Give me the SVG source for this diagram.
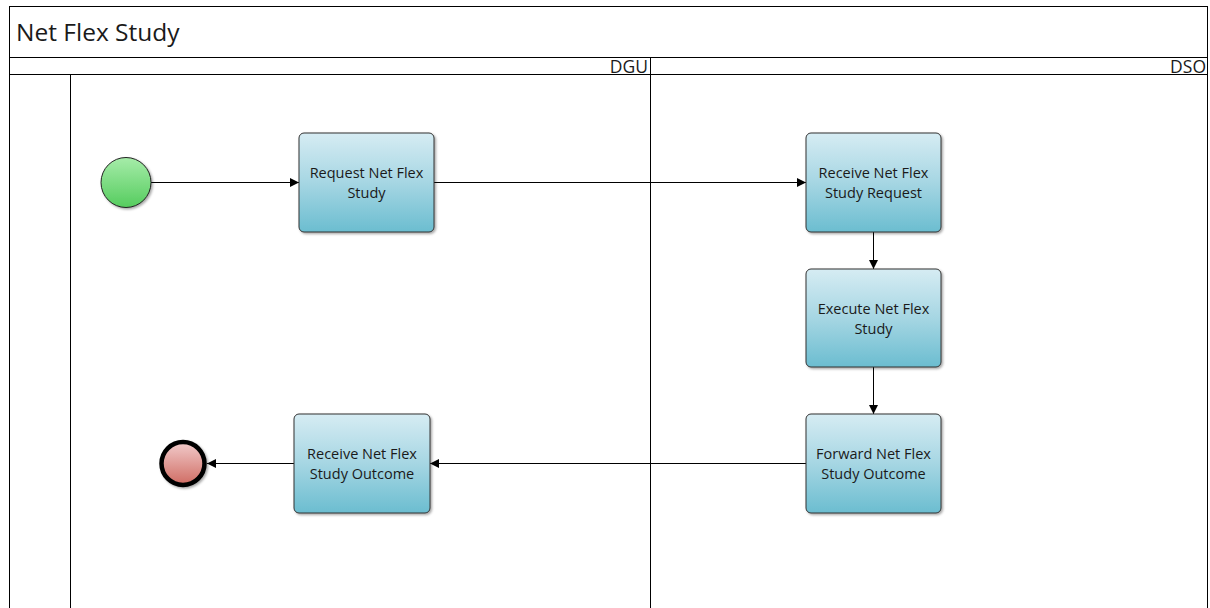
<svg xmlns="http://www.w3.org/2000/svg" width="1210" height="608" viewBox="0 0 1210 608">
<defs>
<linearGradient id="task" x1="0" y1="0" x2="0" y2="1"><stop offset="0" stop-color="#d6ecf3"/><stop offset="0.5" stop-color="#a6d6e3"/><stop offset="1" stop-color="#6bbdd0"/></linearGradient>
<linearGradient id="start" x1="0" y1="0" x2="0" y2="1"><stop offset="0" stop-color="#a6eca9"/><stop offset="1" stop-color="#55cc5e"/></linearGradient>
<linearGradient id="end" x1="0" y1="0" x2="0" y2="1"><stop offset="0" stop-color="#f2cccc"/><stop offset="1" stop-color="#cf6b62"/></linearGradient>
<marker id="arr" viewBox="0 0 10 10" refX="10" refY="5" markerWidth="9" markerHeight="9" markerUnits="userSpaceOnUse" orient="auto"><path d="M0,0 L10,5 L0,10 z" fill="#000"/></marker>
<filter id="sh" x="-10%" y="-10%" width="130%" height="130%"><feDropShadow dx="1.5" dy="1.5" stdDeviation="1" flood-color="#000" flood-opacity="0.35"/></filter>
</defs>
<style>
.frame{fill:none;stroke:#000;stroke-width:1}
.lbl{font-family:"Open Sans","Noto Sans","Liberation Sans",sans-serif;fill:#1a1a1a}
.task rect{fill:url(#task);stroke:#333;stroke-width:1;filter:url(#sh)}
.task text{font-family:"Open Sans","Noto Sans","Liberation Sans",sans-serif;font-size:14.5px;fill:#1a1a1a;text-anchor:middle}
.conn{fill:none;stroke:#000;stroke-width:1;marker-end:url(#arr)}
</style>
<rect width="1210" height="608" fill="#fff"/>
<g id="pool">
<rect class="frame" x="9.5" y="6.5" width="1198" height="610"/>
<line class="frame" x1="9.5" y1="57.5" x2="1207.5" y2="57.5"/>
<line class="frame" x1="9.5" y1="74.5" x2="1207.5" y2="74.5"/>
<line class="frame" x1="70.5" y1="74.5" x2="70.5" y2="608"/>
<line class="frame" x1="650.5" y1="57.5" x2="650.5" y2="608"/>
<text class="lbl" x="16" y="41" font-size="24.5">Net Flex Study</text>
<text class="lbl" x="648" y="72.5" font-size="17.5" text-anchor="end">DGU</text>
<text class="lbl" x="1206" y="72.5" font-size="17.5" text-anchor="end">DSO</text>
</g>
<g id="connectors">
<line class="conn" x1="151" y1="182.5" x2="299" y2="182.5"/>
<line class="conn" x1="434" y1="182.5" x2="806" y2="182.5"/>
<line class="conn" x1="873.5" y1="232" x2="873.5" y2="269"/>
<line class="conn" x1="873.5" y1="367" x2="873.5" y2="414"/>
<line class="conn" x1="806" y1="463.5" x2="430" y2="463.5"/>
<line class="conn" x1="294" y1="463.5" x2="207" y2="463.5"/>
</g>
<g id="start-event"><circle cx="126" cy="182.5" r="25" fill="url(#start)" stroke="#222" stroke-width="1" filter="url(#sh)"/></g>
<g id="end-event"><circle cx="183" cy="463.5" r="21.5" fill="url(#end)" stroke="#000" stroke-width="4.5" filter="url(#sh)"/></g>
<g id="request" class="task"><rect x="299" y="133" width="135" height="99" rx="5"/><text x="366.5" y="178">Request Net Flex</text><text x="366.5" y="198">Study</text></g>
<g id="receive-request" class="task"><rect x="806" y="133" width="135" height="99" rx="5"/><text x="873.5" y="178">Receive Net Flex</text><text x="873.5" y="198">Study Request</text></g>
<g id="execute" class="task"><rect x="806" y="269" width="135" height="98" rx="5"/><text x="873.5" y="314">Execute Net Flex</text><text x="873.5" y="334">Study</text></g>
<g id="forward" class="task"><rect x="806" y="414" width="135" height="99" rx="5"/><text x="873.5" y="459">Forward Net Flex</text><text x="873.5" y="479">Study Outcome</text></g>
<g id="receive-outcome" class="task"><rect x="294" y="414" width="136" height="99" rx="5"/><text x="362" y="459">Receive Net Flex</text><text x="362" y="479">Study Outcome</text></g>
</svg>
